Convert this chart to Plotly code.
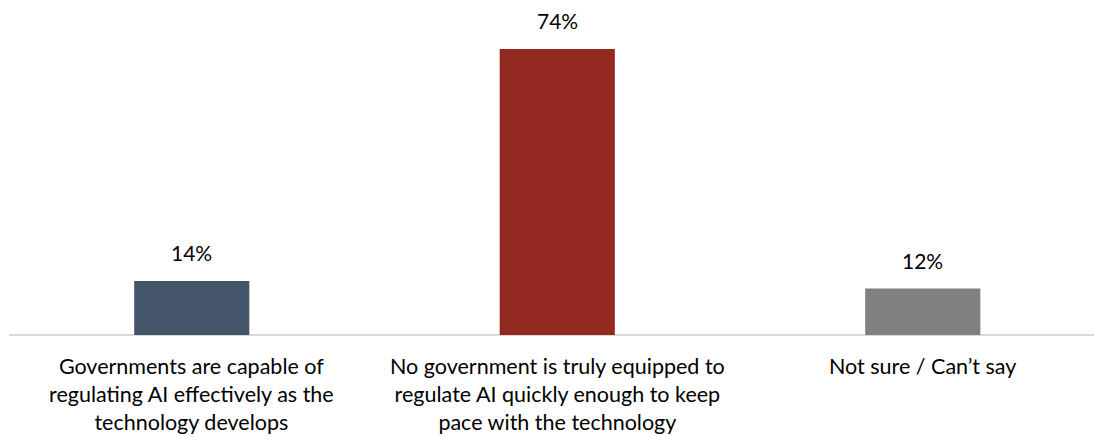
import plotly.graph_objects as go

# Survey responses on governments' ability to regulate AI
categories = [
    "Governments are capable of<br>regulating AI effectively as the<br>technology develops",
    "No government is truly equipped to<br>regulate AI quickly enough to keep<br>pace with the technology",
    "Not sure / Can\u2019t say",
]
shares = [14, 74, 12]
value_labels = ["14%", "74%", "12%"]
bar_colors = ["#44546A", "#922820", "#808080"]

positions = list(range(len(categories)))
FONT = "Lato, Calibri, Carlito, sans-serif"

fig = go.Figure(
    go.Bar(
        x=positions,
        y=shares,
        width=0.315,
        marker=dict(color=bar_colors, line=dict(width=0)),
        hoverinfo="skip",
    )
)

# value labels above each bar
for xi, v, lbl in zip(positions, shares, value_labels):
    fig.add_annotation(
        x=xi, y=v, text=lbl, showarrow=False,
        xref="x", yref="y", yanchor="bottom", yshift=14,
        font=dict(family=FONT, size=21, color="#000000"),
    )

# category labels under the axis
for xi, cat in zip(positions, categories):
    fig.add_annotation(
        x=xi, y=0, text=cat, showarrow=False,
        xref="x", yref="y", yanchor="top", yshift=-16,
        align="center",
        font=dict(family=FONT, size=21.5, color="#000000"),
    )

fig.update_layout(
    width=1094,
    height=437,
    margin=dict(l=9, r=0, t=20, b=102),
    paper_bgcolor="#FFFFFF",
    plot_bgcolor="#FFFFFF",
    showlegend=False,
    xaxis=dict(
        range=[-0.5, 2.4685],
        showticklabels=False,
        showgrid=False,
        zeroline=False,
        showline=False,
        ticks="",
    ),
    yaxis=dict(
        range=[0, 81.5],
        showticklabels=False,
        showgrid=False,
        zeroline=True,
        zerolinecolor="#D9D9D9",
        zerolinewidth=1.5,
        showline=False,
        ticks="",
    ),
)

fig.write_html("out.html")
